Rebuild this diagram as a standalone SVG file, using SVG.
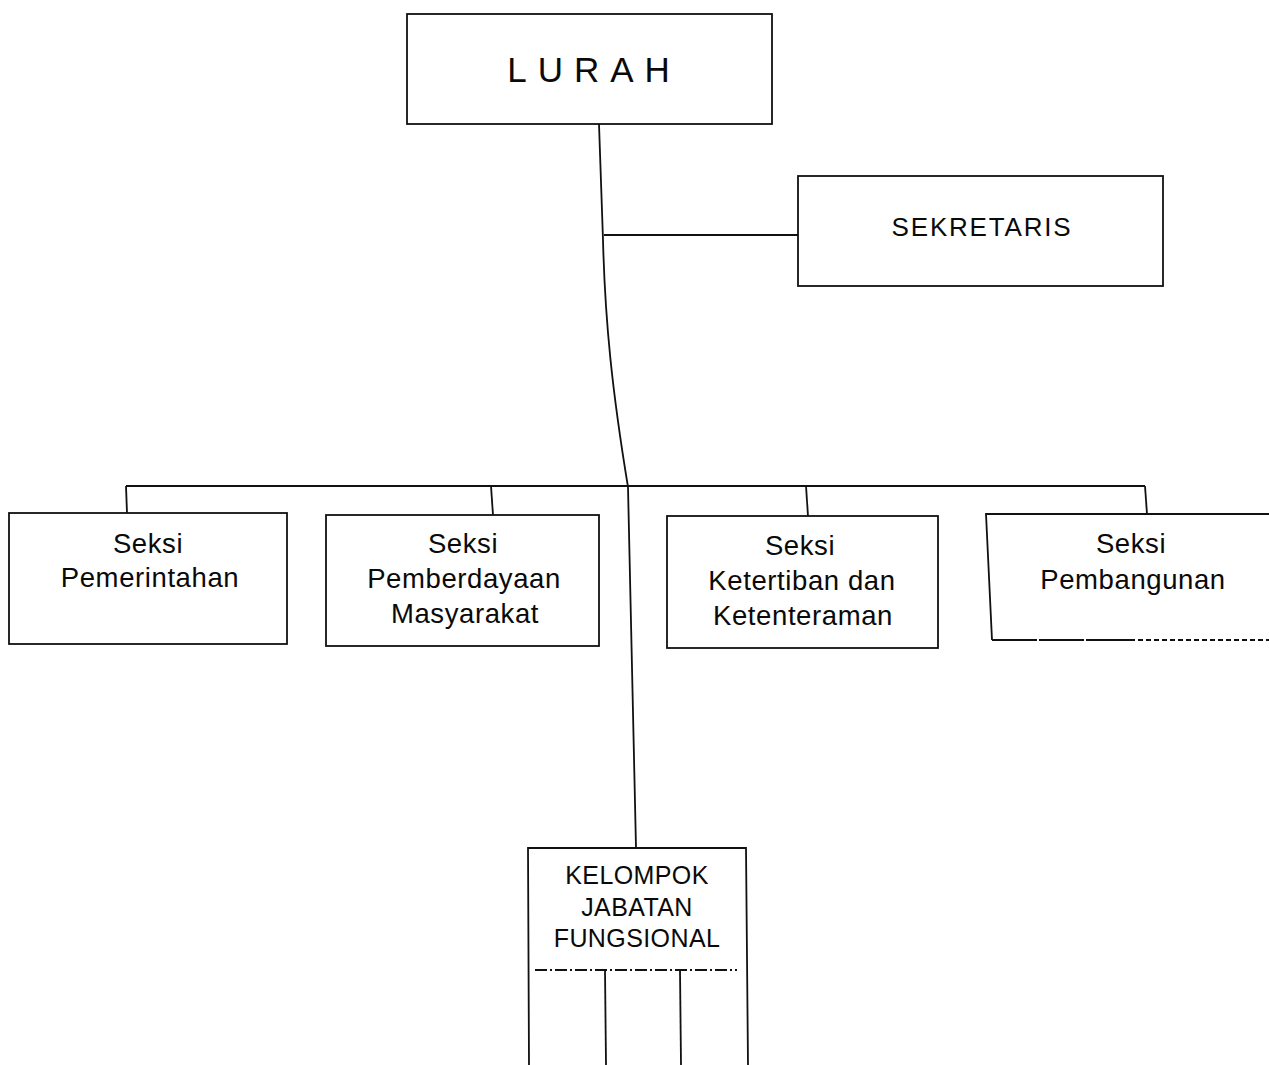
<svg xmlns="http://www.w3.org/2000/svg" width="1269" height="1065" viewBox="0 0 1269 1065">
<style>
.box{fill:#fff;stroke:#111;stroke-width:1.8}
.ln{fill:none;stroke:#111;stroke-width:1.8}
.t{font-family:"Liberation Sans",Arial,sans-serif;fill:#0a0a0a;text-anchor:middle}
.s{font-size:27.5px;letter-spacing:0.6px}
.k{font-size:25px;letter-spacing:0.4px}
</style>
<rect width="1269" height="1065" fill="#fff"/>
<g id="connectors">
<path class="ln" d="M599,124 L603,240 C605,320 612,390 628,487 L636,848"/>
<path class="ln" d="M604,235 L798,235"/>
<path class="ln" d="M126,486 L1145,486"/>
<path class="ln" d="M126,486 L127,513"/>
<path class="ln" d="M491,486 L493,515"/>
<path class="ln" d="M806,486 L808,516"/>
<path class="ln" d="M1145,486 L1147,514"/>
</g>
<g id="lurah">
<rect class="box" x="407" y="14" width="365" height="110"/>
<text class="t" x="594" y="82" style="font-size:35px;letter-spacing:11px">LURAH</text>
</g>
<g id="sekretaris">
<rect class="box" x="798" y="176" width="365" height="110"/>
<text class="t" x="982" y="236" style="font-size:26px;letter-spacing:1.8px">SEKRETARIS</text>
</g>
<g id="seksi-pemerintahan">
<rect class="box" x="9" y="513" width="278" height="131"/>
<text class="t s" x="148" y="553">Seksi</text>
<text class="t s" x="150" y="587">Pemerintahan</text>
</g>
<g id="seksi-pemberdayaan">
<rect class="box" x="326" y="515" width="273" height="131"/>
<text class="t s" x="463" y="553">Seksi</text>
<text class="t s" x="464" y="588">Pemberdayaan</text>
<text class="t s" x="465" y="623">Masyarakat</text>
</g>
<g id="seksi-ketertiban">
<rect class="box" x="667" y="516" width="271" height="132"/>
<text class="t s" x="800" y="555">Seksi</text>
<text class="t s" x="802" y="590">Ketertiban dan</text>
<text class="t s" x="803" y="625">Ketenteraman</text>
</g>
<g id="seksi-pembangunan">
<path class="ln" d="M1269,514 L986,514 L992,640"/>
<path class="ln" d="M992,640 L1130,640" stroke-dasharray="45,2"/>
<path class="ln" d="M1130,640 L1269,640" stroke-dasharray="5,3"/>
<text class="t s" x="1131" y="553">Seksi</text>
<text class="t s" x="1133" y="589">Pembangunan</text>
</g>
<g id="kelompok-jabatan-fungsional">
<path class="ln" d="M529,1065 L528,848 L746,848 L748,1065"/>
<path class="ln" d="M535,970 L737,970" stroke-dasharray="12,3,2,3"/>
<path class="ln" d="M605,970 L606,1065"/>
<path class="ln" d="M680,970 L681,1065"/>
<text class="t k" x="637" y="884">KELOMPOK</text>
<text class="t k" x="637" y="916">JABATAN</text>
<text class="t k" x="637" y="947">FUNGSIONAL</text>
</g>
</svg>
